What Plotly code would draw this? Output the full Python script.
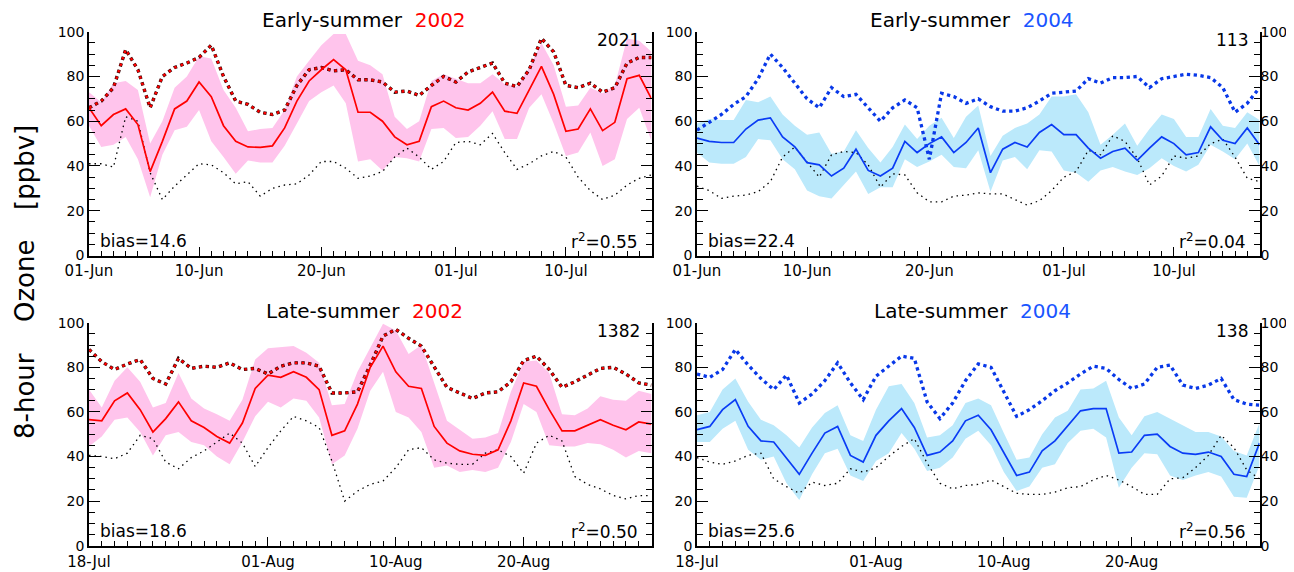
import plotly.graph_objects as go

# the page adds an 8px body margin, so the figure is drawn 8px in from the top-left corner
OFF = 8
W, H = 1294 - OFF, 572 - OFF

# ---------------- data ----------------
top_ticks_pos = [0, 9, 19, 30, 39]
top_ticks_lab = ["01-Jun", "10-Jun", "20-Jun", "01-Jul", "10-Jul"]
bot_ticks_pos = [0, 14, 24, 34]
bot_ticks_lab = ["18-Jul", "01-Aug", "10-Aug", "20-Aug"]

# Early-summer 2002
tl_mean = [66, 58, 63, 65.5, 58.5, 37.5, 51, 65.5, 69, 77.5, 71, 58, 51, 48.5, 48.3, 49, 57, 69, 78, 83, 87.5, 83, 64, 64,
           60, 53, 49.5, 51, 66.5, 69, 66, 65, 68, 73, 64.5, 63.5, 74, 84.5, 72, 55.5, 56.5, 65.5, 55.8, 59.5, 79, 80.5, 70]
tl_hi = [73, 68.5, 77, 78, 74, 50, 60, 75, 80, 89, 88, 74, 66, 55.5, 56.5, 57, 65, 80, 87, 94, 99, 99, 87, 85,
         81, 62, 56.5, 60, 78, 81, 79, 77, 77, 81, 76.5, 75.5, 84, 95, 85, 66.5, 67, 75, 72.5, 76, 97, 96, 91]
tl_lo = [58, 48.5, 49.5, 53, 43, 26, 45, 56, 57.5, 65, 51, 44, 36.5, 42.5, 41.5, 41.5, 49, 59, 69, 73, 76, 68, 42, 43,
         38, 44, 43.5, 42, 56.5, 57, 52.5, 53, 58, 64.5, 52, 52, 66, 72, 59, 44.5, 46, 55, 40, 43, 61, 66, 51]
tl_mod = [66, 69, 75, 92, 83, 66, 80, 84, 86, 88.5, 94, 80, 69, 67.5, 64, 63, 65, 76, 83, 84, 82.5, 83, 78.5, 78.5,
          77.5, 73, 73.5, 71.5, 76, 80, 77.5, 82, 84, 86, 77, 75.5, 83, 97, 91, 76, 75, 77, 73, 75, 86, 88.5, 88.5]
tl_bg = [41, 41, 39.5, 62, 60, 37, 25, 31, 36, 41, 40.5, 37, 32, 33, 26.5, 30, 31.5, 32, 36, 42, 42, 39, 34.5, 35.5,
         37.5, 44, 48, 44, 38.5, 42, 50.5, 51, 49.5, 54.5, 46, 38.5, 41, 44.5, 46.5, 44, 35, 29, 25, 27, 31.5, 34.5, 36]

# Early-summer 2004
tr_mean = [52.5, 51, 50.5, 50.5, 56.5, 60.5, 61.5, 53, 48.5, 41.5, 40.5, 35.5, 39, 47.5, 38, 35.5, 39, 51, 46, 50, 53, 46,
           50.5, 57, 37, 47.5, 50.5, 48.5, 55, 58.5, 54, 54, 48, 43.5, 46.5, 48, 42.5, 48, 53, 50, 45, 46, 57.5, 51.5, 50, 57, 49.5]
tr_hi = [59, 61, 60.5, 60.5, 69.5, 68.5, 71, 63, 58, 54, 55, 45.5, 46.5, 56, 48, 41.5, 48.5, 58.5, 52, 58, 61.5, 52.5,
         62, 67, 44.5, 53.5, 57, 59, 63, 71, 71, 72, 64, 49.5, 54, 59, 49, 56.5, 63, 61, 53, 53, 65.5, 58, 57, 64, 60.5]
tr_lo = [46, 41.5, 41, 41, 44, 52, 51.5, 43, 38.5, 29, 26.5, 25.5, 31.5, 37.5, 27.5, 30.5, 30.5, 43, 39.5, 42, 45, 39.5,
         39, 47, 28.5, 42.5, 44, 38.5, 47, 46.5, 38, 37, 33, 38, 39.5, 37.5, 36, 39, 43.5, 40, 37.5, 40.5, 49.5, 46.5, 43, 50, 40]
tr_mod = [56, 59.5, 63, 67.5, 71, 79, 90, 84, 77, 70, 66, 75, 71, 72, 66, 60, 66, 69.5, 66, 43, 72.5, 71, 68, 70,
          66.5, 64.5, 64.5, 66, 69, 72.5, 73, 73.5, 79, 77, 79.5, 79.5, 80, 75, 79, 80, 81, 80.5, 79.5, 75, 64, 68, 75]
tr_bg = [31, 29, 25.5, 26.5, 27, 28.5, 33, 44, 48.5, 41.5, 35, 45, 46.5, 46, 40.5, 30.5, 36.5, 36, 28, 24, 24, 26.5,
         27, 28, 27.5, 27.5, 25, 22.5, 24.5, 29, 35, 37.5, 47, 45, 53.5, 51, 43.5, 31.5, 35.5, 44.5, 43.5, 44.5, 50, 52, 44, 34.5, 33]

# Late-summer 2002
bl_mean = [56.5, 56, 65, 68.5, 61, 51, 57, 64.5, 56, 53, 49, 46, 55, 70.5, 76.5, 75.5, 78, 75.5, 70, 49.5, 51.5, 63.5,
           80, 89.5, 78, 71.5, 70.5, 53.5, 46, 42.5, 41, 40.5, 43, 56, 73, 71.5, 61, 51.5, 51.5, 54, 56.5, 54, 52, 55.5, 54.5]
bl_hi = [70, 62, 74, 80, 73.5, 62, 64, 77.5, 66, 61.5, 59, 56, 65.5, 83.5, 88.5, 89, 89.5, 86.5, 82, 63, 63.5, 78,
         89, 99.5, 96.5, 86, 90, 73, 56, 52, 48, 48.5, 50.5, 69, 82.5, 83, 77.5, 59, 58.5, 61.5, 67, 65.5, 65, 69.5, 68]
bl_lo = [44.5, 49, 56.5, 57.5, 51, 40.5, 49.5, 51, 46.5, 45, 40, 36.5, 46.5, 58, 64.5, 62, 66, 65, 57.5, 36.5, 40.5, 52.5,
         69.5, 78, 60, 57.5, 51, 35, 36, 33, 34, 33, 35, 46.5, 63.5, 60, 45, 44.5, 44.5, 46, 45.5, 43, 39.5, 42.5, 41.5]
bl_mod = [88, 82.5, 79, 81.5, 83.5, 75, 72.5, 84, 79.5, 80.5, 80, 82, 79, 79.5, 77, 80.5, 82, 82, 80.5, 68.5, 68.5, 69,
          81, 94, 97, 93, 89.5, 80.5, 71, 68.5, 66, 68.5, 69, 73.5, 83, 85, 79, 71, 73.5, 76.5, 79.5, 80, 77, 73, 72]
bl_bg = [40.5, 40, 39, 41.5, 49.5, 48, 37.5, 34.5, 39.5, 42.5, 46.5, 50.5, 46, 35.5, 44, 51.5, 58, 56, 53, 38, 20, 24.5,
         27.5, 29, 35, 43, 44, 38.5, 37, 36.5, 36.5, 41.5, 43, 40, 32.5, 46, 49.5, 47, 31, 27.5, 25.5, 22.5, 21, 22.5, 22.5]

# Late-summer 2004
br_mean = [52, 53.5, 61, 65.5, 53.5, 47, 46.5, 39.5, 32, 41.5, 50.5, 53.5, 40.5, 37.5, 49.5, 56, 61.5, 53, 40.5, 42, 47,
           56, 58.5, 52, 41.5, 31.5, 33, 42.5, 47, 53.5, 60.5, 61.5, 61.5, 41.5, 42, 49.5, 50, 44.5, 41.5, 41, 42, 40, 32, 31, 46]
br_hi = [58.5, 60, 70, 75, 64.5, 56.5, 54, 49.5, 44, 53, 59.5, 63, 49.5, 47, 61, 71.5, 72.5, 64, 48.5, 49.5, 54,
         64, 66, 63, 50.5, 38.5, 39.5, 50, 57.5, 60.5, 70, 70.5, 74, 57.5, 49.5, 58, 60, 57, 54, 51, 51, 49, 42.5, 40.5, 55]
br_lo = [46.5, 46.5, 52.5, 56, 43, 38.5, 40, 28, 20.5, 32, 41.5, 43.5, 31.5, 29, 38, 41.5, 50.5, 43.5, 33.5, 35, 39.5,
         48, 51.5, 45, 33, 24.5, 26.5, 35, 36.5, 46, 51.5, 52.5, 48.5, 26, 35, 41.5, 41, 31.5, 29.5, 31.5, 33, 31, 22, 21.5, 36]
br_mod = [77, 75.5, 79, 88, 81, 75, 70, 76.5, 64, 68, 74, 82, 73, 65.5, 76, 80.5, 85, 84, 64.5, 57, 64, 74,
          81.5, 80, 69, 58, 61, 65, 69.5, 73, 77, 80.5, 79.5, 74.5, 70.5, 72.5, 80, 81, 72, 70.5, 72, 75, 65.5, 63.5, 63]
br_bg = [39.5, 37.5, 36.5, 38, 40.5, 41.5, 30, 26.5, 23.5, 28.5, 27, 28, 34.5, 33, 35, 40, 44.5, 48, 37, 28, 25.5, 27,
         27.5, 29.5, 26.5, 23.5, 23, 23, 24, 26, 26.5, 29.5, 31.5, 29.5, 26.5, 23, 23, 30, 30.5, 35, 40.5, 49.5, 44, 34, 30]

panel_titles = ["Early-summer", "Early-summer", "Late-summer", "Late-summer"]
panel_years = ["2002", "2004", "2002", "2004"]
panel_counts = ["2021", "113", "1382", "138"]
panel_bias = ["14.6", "22.4", "18.6", "25.6"]
panel_r2 = ["0.55", "0.04", "0.50", "0.56"]

# ---------------- style ----------------
RED = "#ff0000"
BLUE = "#0a3cf5"
BLUE_T = "#1a55ff"
PINK = "#ffc4ec"
LBLUE = "#bbe9fb"
FONT = "DejaVu Sans"


def px(x):
    return (x - OFF) / W


def py(y):
    return 1 - (y - OFF) / H


# panel geometry in page pixels
XL = (89, 651.5)
XR = (697, 1259.5)
YT = (31.7, 255.5)
YB = (322.7, 545.7)

panels = [
    dict(xa="x", ya="y", xd=XL, yd=YT, mean=tl_mean, hi=tl_hi, lo=tl_lo, mod=tl_mod, bg=tl_bg,
         col=RED, band=PINK, tv=top_ticks_pos, tt=top_ticks_lab, right=False),
    dict(xa="x2", ya="y2", xd=XR, yd=YT, mean=tr_mean, hi=tr_hi, lo=tr_lo, mod=tr_mod, bg=tr_bg,
         col=BLUE, band=LBLUE, tv=top_ticks_pos, tt=top_ticks_lab, right=True),
    dict(xa="x3", ya="y3", xd=XL, yd=YB, mean=bl_mean, hi=bl_hi, lo=bl_lo, mod=bl_mod, bg=bl_bg,
         col=RED, band=PINK, tv=bot_ticks_pos, tt=bot_ticks_lab, right=False),
    dict(xa="x4", ya="y4", xd=XR, yd=YB, mean=br_mean, hi=br_hi, lo=br_lo, mod=br_mod, bg=br_bg,
         col=BLUE, band=LBLUE, tv=bot_ticks_pos, tt=bot_ticks_lab, right=True),
]

fig = go.Figure()
layout = {}
annotations = []

for k, p in enumerate(panels):
    n = len(p["mean"])
    idx = list(range(n))
    # spread band
    fig.add_trace(go.Scatter(x=idx + idx[::-1], y=p["hi"] + p["lo"][::-1], fill="toself",
                             fillcolor=p["band"], line=dict(width=0), mode="lines",
                             xaxis=p["xa"], yaxis=p["ya"], hoverinfo="skip", showlegend=False))
    # thin black dotted
    fig.add_trace(go.Scatter(x=idx, y=p["bg"], mode="lines",
                             line=dict(color="black", width=1.3, dash="1.5px,4px"),
                             xaxis=p["xa"], yaxis=p["ya"], showlegend=False))
    # thick dotted
    if p["col"] == RED:
        fig.add_trace(go.Scatter(x=idx, y=p["mod"], mode="lines",
                                 line=dict(color="#300000", width=3.4, dash="3.4px,3.4px"),
                                 xaxis=p["xa"], yaxis=p["ya"], showlegend=False))
        fig.add_trace(go.Scatter(x=idx, y=p["mod"], mode="lines",
                                 line=dict(color=RED, width=2.4, dash="0px,0.5px,2.4px,3.9px"),
                                 xaxis=p["xa"], yaxis=p["ya"], showlegend=False))
    else:
        fig.add_trace(go.Scatter(x=idx, y=p["mod"], mode="lines",
                                 line=dict(color="#0838e8", width=3.3, dash="3.3px,3.5px"),
                                 xaxis=p["xa"], yaxis=p["ya"], showlegend=False))
    # mean line
    fig.add_trace(go.Scatter(x=idx, y=p["mean"], mode="lines",
                             line=dict(color=p["col"], width=1.7),
                             xaxis=p["xa"], yaxis=p["ya"], showlegend=False))

    xname = "xaxis" + ("" if p["xa"] == "x" else p["xa"][1:])
    yname = "yaxis" + ("" if p["ya"] == "y" else p["ya"][1:])
    layout[xname] = dict(
        domain=[px(p["xd"][0]), px(p["xd"][1])], anchor=p["ya"], range=[0, n - 1],
        tickmode="array", tickvals=p["tv"], ticktext=p["tt"],
        ticks="inside", ticklen=9, tickwidth=1.2, tickcolor="black",
        showline=True, linecolor="black", linewidth=1.6, mirror=False,
        showgrid=False, zeroline=False, automargin=False, ticklabelstandoff=1,
        tickfont=dict(family=FONT, size=15, color="black"),
        minor=dict(tickmode="linear", tick0=0, dtick=1, ticks="inside", ticklen=5,
                   tickwidth=1.2, tickcolor="black", showgrid=False),
    )
    layout[yname] = dict(
        domain=[py(p["yd"][1]), py(p["yd"][0])], anchor=p["xa"], range=[0, 100],
        tickmode="linear", tick0=0, dtick=20,
        ticks="inside", ticklen=11, tickwidth=1.2, tickcolor="black",
        showline=True, linecolor="black", linewidth=1.6, mirror="ticks",
        showgrid=False, zeroline=False, automargin=False,
        tickfont=dict(family=FONT, size=14, color="black"),
        minor=dict(tickmode="linear", tick0=0, dtick=5, ticks="inside", ticklen=6,
                   tickwidth=1.2, tickcolor="black", showgrid=False),
    )
    if p["right"]:
        rnum = 5 if k == 1 else 6
        layout["yaxis%d" % rnum] = dict(
            overlaying=p["ya"], anchor=p["xa"], side="right", range=[0, 100],
            tickmode="linear", tick0=0, dtick=20, ticks="", showline=False,
            showgrid=False, zeroline=False, automargin=False,
            tickfont=dict(family=FONT, size=14, color="black"),
        )
        fig.add_trace(go.Scatter(x=[0], y=[None], mode="lines", xaxis=p["xa"], yaxis="y%d" % rnum,
                                 showlegend=False, hoverinfo="skip"))

    x0, x1 = p["xd"]
    y0, y1 = p["yd"]
    tcol = RED if p["col"] == RED else BLUE_T
    annotations.append(dict(
        x=px((x0 + x1) / 2 - 6), y=py(y0 - 12), xref="paper", yref="paper",
        text=panel_titles[k] + "&nbsp;&nbsp;<span style='color:%s'>%s</span>" % (tcol, panel_years[k]),
        showarrow=False, xanchor="center", yanchor="middle",
        font=dict(family=FONT, size=20, color="black")))
    annotations.append(dict(
        x=px(x1 - 10), y=py(y0 + 8), xref="paper", yref="paper", text=panel_counts[k],
        showarrow=False, xanchor="right", yanchor="middle",
        font=dict(family=FONT, size=17, color="black")))
    annotations.append(dict(
        x=px(x0 + 9), y=py(y1 - 15), xref="paper", yref="paper", text="bias=" + panel_bias[k],
        showarrow=False, xanchor="left", yanchor="middle",
        font=dict(family=FONT, size=17, color="black")))
    annotations.append(dict(
        x=px(x1 - 12), y=py(y1 - 15), xref="paper", yref="paper",
        text="r<sup>2</sup>=" + panel_r2[k],
        showarrow=False, xanchor="right", yanchor="middle",
        font=dict(family=FONT, size=17, color="black")))

# y-axis title, rotated, word by word to match the wide spacing
for word, yc in [("8-hour", 396), ("Ozone", 281), ("[ppbv]", 168)]:
    annotations.append(dict(
        x=px(25), y=py(yc), xref="paper", yref="paper", text=word, textangle=-90,
        showarrow=False, xanchor="center", yanchor="middle",
        font=dict(family=FONT, size=26, color="black")))

fig.update_layout(
    width=W, height=H, autosize=False,
    margin=dict(l=0, r=0, t=0, b=0, pad=0),
    paper_bgcolor="white", plot_bgcolor="white",
    showlegend=False, annotations=annotations, **layout)

fig.write_html("out.html")
